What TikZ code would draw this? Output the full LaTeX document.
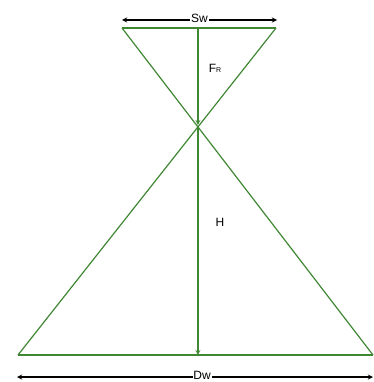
\documentclass[tikz,border=0pt]{standalone}
\usepackage{fontspec}
\setmainfont{Liberation Sans}
\usepackage{xcolor}
\usetikzlibrary{arrows.meta}
\definecolor{hgreen}{RGB}{64,135,52}

\begin{document}
\begin{tikzpicture}[
  x=1pt, y=-1pt, >=stealth,
  every node/.style={font=\fontsize{12}{12}\selectfont},
  edge/.style={hgreen,line width=1.2pt},
  dim/.style={<->,line width=1.3pt},
  lbl/.style={fill=white,inner sep=0.8pt}
]
  \useasboundingbox (0,0) rectangle (373,382);
  % corners of the two triangles
  \coordinate (tl) at (122,28);
  \coordinate (tr) at (276,28);
  \coordinate (bl) at (18,355);
  \coordinate (br) at (373,355);
  \coordinate (x) at (intersection of tl--br and tr--bl);
  \coordinate (tm) at (x |- tl);
  \coordinate (bm) at (x |- bl);
  \draw[edge] (tl) -- (tr);
  \draw[edge] (bl) -- (br);
  \draw[edge] (tl) -- (br);
  \draw[edge] (tr) -- (bl);
  \draw[edge,->,shorten >=2pt] (tm) -- (x);
  \draw[edge,->] (x) -- (bm);
  \node (fr) at (215,68) {F{\fontsize{7}{7}\selectfont R}};
  \node (h) at (220,222) {H};
  % dimension arrows
  \coordinate (swl) at (122,20);
  \coordinate (swr) at (277,20);
  \draw[dim] (swl) -- (swr) node[midway,lbl,yshift=1.5pt] (sw) {Sw};
  \coordinate (dwl) at (17,377);
  \coordinate (dwr) at (373,377);
  \draw[dim] (dwl) -- (dwr) node[pos=0.52,lbl,yshift=1.5pt] (dw) {Dw};
\end{tikzpicture}
\end{document}
